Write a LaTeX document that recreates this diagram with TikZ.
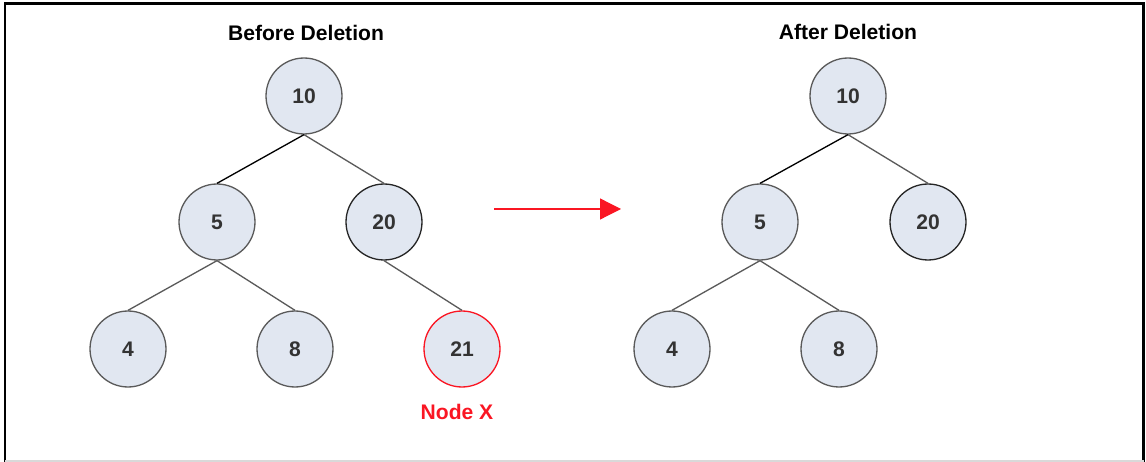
\documentclass[tikz,border=0pt]{standalone}
\usepackage{fontspec}
\setmainfont{Liberation Sans}
\usetikzlibrary{arrows.meta}
\definecolor{nodefill}{RGB}{225,231,241}
\definecolor{nodeline}{RGB}{90,90,90}
\definecolor{numtext}{RGB}{51,51,51}
\definecolor{markred}{RGB}{250,22,35}

\begin{document}
\begin{tikzpicture}[x=0.02cm, y=-0.02cm,
    key/.style={circle, draw=nodeline, fill=nodefill, line width=0.75pt, minimum size=1.52cm, inner sep=0pt, font=\fontsize{12}{14}\selectfont\bfseries, text=numtext},
    link/.style={draw=nodeline, line width=0.75pt},
    heading/.style={font=\fontsize{12}{14}\selectfont\bfseries}]
    % frame
    \useasboundingbox (0,0) rectangle (1146,462);
    \draw[line width=1.4pt] (5,462) -- (5,3.5) -- (1143.5,3.5) -- (1143.5,462);
    \draw[black!15, line width=0.6pt] (5,461) -- (1143.5,461);

    % Before deletion
    \node (title1) at (306,33) [heading] {Before Deletion};
    \node (b10) at (304,96) [key] {10};
    \node (b5) at (217,222) [key] {5};
    \node (b20) at (384,222) [key, draw=black!85] {20};
    \node (b4) at (128,349) [key] {4};
    \node (b8) at (295,349) [key] {8};
    \node (b21) at (462,349) [key, draw=markred] {21};
    \node (nodex) at (457,412) [heading, text=markred] {Node X};

    \draw [link, draw=black] (b10.south) -- (b5.north);
    \draw [link] (b10.south) -- (b20.north);
    \draw [link] (b5.south) -- (b4.north);
    \draw [link] (b5.south) -- (b8.north);
    \draw [link] (b20.south) -- (b21.north);

    % arrow
    \coordinate (arrowtail) at (494,209);
    \coordinate (arrowtip) at (621,209);
    \draw [markred, line width=0.7pt, -{Triangle[length=0.42cm, width=0.42cm]}] (arrowtail) -- (arrowtip);

    % After deletion
    \node (title2) at (848,32) [heading] {After Deletion};
    \node (a10) at (848,96) [key] {10};
    \node (a5) at (760,222) [key] {5};
    \node (a20) at (928,222) [key, draw=black!85] {20};
    \node (a4) at (672,349) [key] {4};
    \node (a8) at (839,349) [key] {8};

    \draw [link, draw=black] (a10.south) -- (a5.north);
    \draw [link] (a10.south) -- (a20.north);
    \draw [link] (a5.south) -- (a4.north);
    \draw [link] (a5.south) -- (a8.north);
\end{tikzpicture}
\end{document}
